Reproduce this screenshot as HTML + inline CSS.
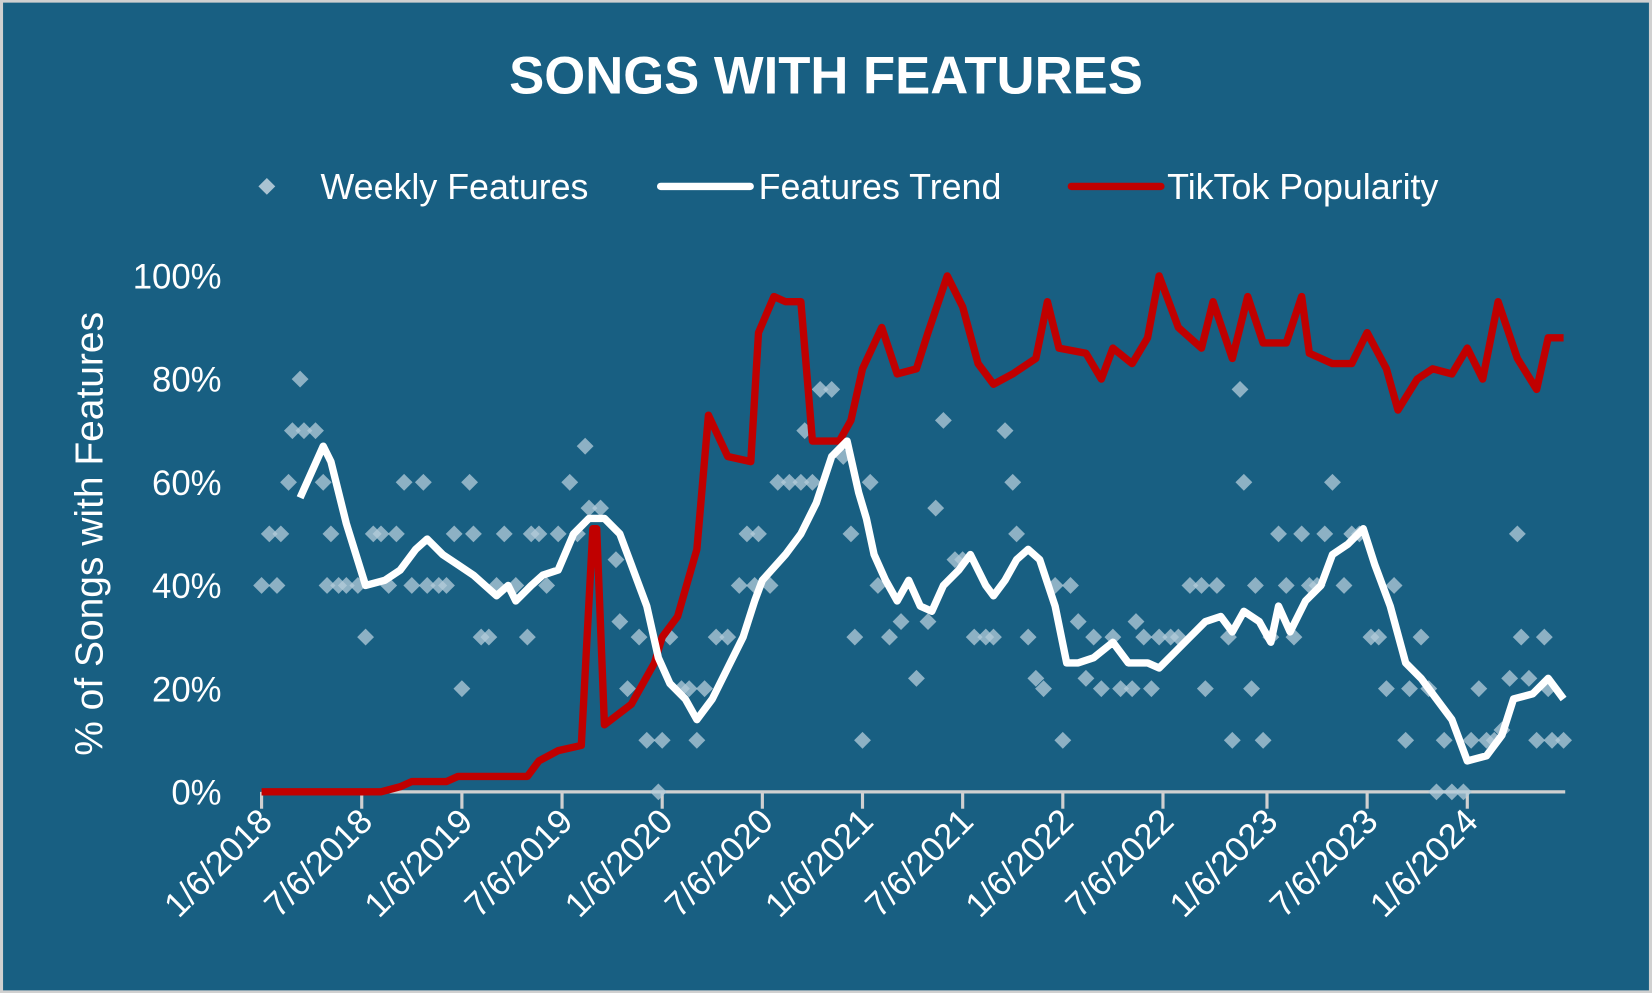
<!DOCTYPE html>
<html><head><meta charset="utf-8"><style>
html,body{margin:0;padding:0;background:#fff}
svg{display:block;font-family:"Liberation Sans",sans-serif}
</style></head><body>
<svg id="chart" width="1652" height="993" viewBox="0 0 1568 943" xmlns="http://www.w3.org/2000/svg">
<rect x="1" y="1" width="1566" height="941" fill="#185f82" stroke="#d0d0d0" stroke-width="3"/>
<text x="784" y="89" text-anchor="middle" fill="#fff" font-size="50" font-weight="bold">SONGS WITH FEATURES</text>
<g>
<path d="M253 169 L261 177 L253 185 L245 177 Z" fill="#a9c3d2"/>
<text x="304" y="189" fill="#fff" font-size="34">Weekly Features</text>
<line x1="627" y1="177" x2="712" y2="177" stroke="#fff" stroke-width="7" stroke-linecap="round"/>
<text x="720" y="189" fill="#fff" font-size="34">Features Trend</text>
<line x1="1017" y1="177" x2="1102" y2="177" stroke="#c00000" stroke-width="7" stroke-linecap="round"/>
<text x="1108" y="189" fill="#fff" font-size="34">TikTok Popularity</text>
</g>
<text transform="translate(97,507) rotate(-90)" text-anchor="middle" fill="#fff" font-size="37">% of Songs with Features</text>
<g id="yaxis"></g><g id="xaxis"></g><g id="marks"></g>
</svg>
<script>
const yTicks = [0,20,40,60,80,100];
const xTickLabels = ["1/6/2018","7/6/2018","1/6/2019","7/6/2019","1/6/2020","7/6/2020","1/6/2021","7/6/2021","1/6/2022","7/6/2022","1/6/2023","7/6/2023","1/6/2024"];
const xTickWeeks = [0,26,52,78,104,130,156,182,208,234,261,287,313];
const scatterWeeks = [0,4,2,5,7,8,10,11,14,16,17,20,18,22,25,27,29,31,33,35,37,39,42,43,46,48,50,52,54,55,57,59,61,63,66,69,70,72,74,77,80,82,84,85,88,92,93,95,98,100,103,104,106,109,111,113,115,118,121,124,126,128,129,132,134,137,140,141,143,145,148,151,153,154,156,158,160,163,166,170,173,175,177,180,182,185,188,190,193,195,196,199,201,203,206,208,210,212,214,216,218,221,223,226,227,229,231,233,236,238,241,244,245,248,251,252,254,255,257,258,260,262,264,266,268,270,272,274,276,278,281,283,285,288,290,292,294,297,298,301,303,305,307,309,312,314,316,318,320,322,324,326,327,329,331,333,334,335,338];
const scatterValues = [40,40,50,50,60,70,80,70,70,60,40,40,50,40,40,30,50,50,40,50,60,40,60,40,40,40,50,20,60,50,30,30,40,50,40,30,50,50,40,50,60,50,67,55,55,45,33,20,30,10,0,10,30,20,20,10,20,30,30,40,50,40,50,40,60,60,60,70,60,78,78,65,50,30,10,60,40,30,33,22,33,55,72,45,45,30,30,30,70,60,50,30,22,20,40,10,40,33,22,30,20,30,20,20,33,30,20,30,30,30,40,40,20,40,30,10,78,60,20,40,10,30,50,40,30,50,40,40,50,60,40,50,50,30,30,20,40,10,20,30,20,0,10,0,0,10,20,10,10,12,22,50,30,22,10,30,20,10,10];
const trendWeeks = [10,16,18,22,27,32,36,40,43,47,51,55,61,64,66,70,73,77,81,85,89,93,96,100,103,106,110,113,117,121,125,128,130,136,140,144,148,152,155,157,159,162,165,168,171,174,177,181,184,188,190,193,196,199,202,206,209,212,216,221,225,230,233,237,241,245,249,252,255,259,262,264,267,271,275,278,282,286,289,293,297,301,305,309,313,318,322,325,330,334,338];
const trendValues = [57,67,64,52,40,41,43,47,49,46,44,42,38,40,37,40,42,43,50,53,53,50,44,36,26,21,18,14,18,24,30,37,41,46,50,56,65,68,58,53,46,41,37,41,36,35,40,43,46,40,38,41,45,47,45,36,25,25,26,29,25,25,24,27,30,33,34,31,35,33,29,36,31,37,40,46,48,51,44,36,25,22,18,14,6,7,11,18,19,22,18];
const tiktokWeeks = [0,31,36,39,48,51,69,72,77,83,86,87,89,96,102,104,108,113,116,121,127,129,133,136,140,143,150,153,156,161,165,170,173,178,182,186,190,195,201,204,207,214,218,221,226,230,233,238,244,247,252,256,260,266,270,272,278,283,287,292,295,300,304,309,313,317,321,326,331,334,338];
const tiktokValues = [0,0,1,2,2,3,3,6,8,9,51,51,13,17,25,30,34,47,73,65,64,89,96,95,95,68,68,72,82,90,81,82,89,100,94,83,79,81,84,95,86,85,80,86,83,88,100,90,86,95,84,96,87,87,96,85,83,83,89,82,74,80,82,81,86,80,95,84,78,88,88];

const NS="http://www.w3.org/2000/svg";
const x0=248, pxPerWeek=(1393-248)/313, y0=752, yTop=262;
const xs=w=>x0+w*pxPerWeek;
const ys=v=>y0-(v/100)*(y0-yTop);
function mk(tag,attrs,parent){const e=document.createElementNS(NS,tag);for(const k in attrs)e.setAttribute(k,attrs[k]);parent.appendChild(e);return e;}
const yg=document.getElementById('yaxis'), xg=document.getElementById('xaxis'), mg=document.getElementById('marks');
yTicks.forEach(v=>{
  const t=mk('text',{x:210,y:ys(v)+12,'text-anchor':'end',fill:'#fff','font-size':33},yg);
  
  
  t.textContent=v+'%';
});
const ax=mk('line',{x1:x0,y1:y0,x2:1486,y2:y0,stroke:'#d0d0d0','stroke-width':3},xg);


xTickWeeks.forEach((w,i)=>{
  const x=xs(w);
  const tk=mk('line',{x1:x,y1:y0,x2:x,y2:y0+16,stroke:'#d0d0d0','stroke-width':3},xg);
  
  
  const t=mk('text',{transform:`translate(${x+12},${y0+30}) rotate(-45)`,'text-anchor':'end',fill:'#fff','font-size':33},xg);
  
  
  t.textContent=xTickLabels[i];
});
scatterWeeks.forEach((w,i)=>{
  const cx=xs(w), cy=ys(scatterValues[i]);
  const d=mk('path',{d:`M${cx} ${cy-8}L${cx+8} ${cy}L${cx} ${cy+8}L${cx-8} ${cy}Z`,fill:'#b4ccd9','fill-opacity':0.75},mg);
  
  
});
function line(ws,vs,color,name){
  const p=mk('polyline',{points:ws.map((w,i)=>xs(w)+','+ys(vs[i])).join(' '),fill:'none',stroke:color,'stroke-width':7,'stroke-linejoin':'round'},mg);
  
  
}
line(tiktokWeeks,tiktokValues,'#c00000','tiktok-popularity-line');
line(trendWeeks,trendValues,'#ffffff','features-trend-line');
</script>
</body></html>
